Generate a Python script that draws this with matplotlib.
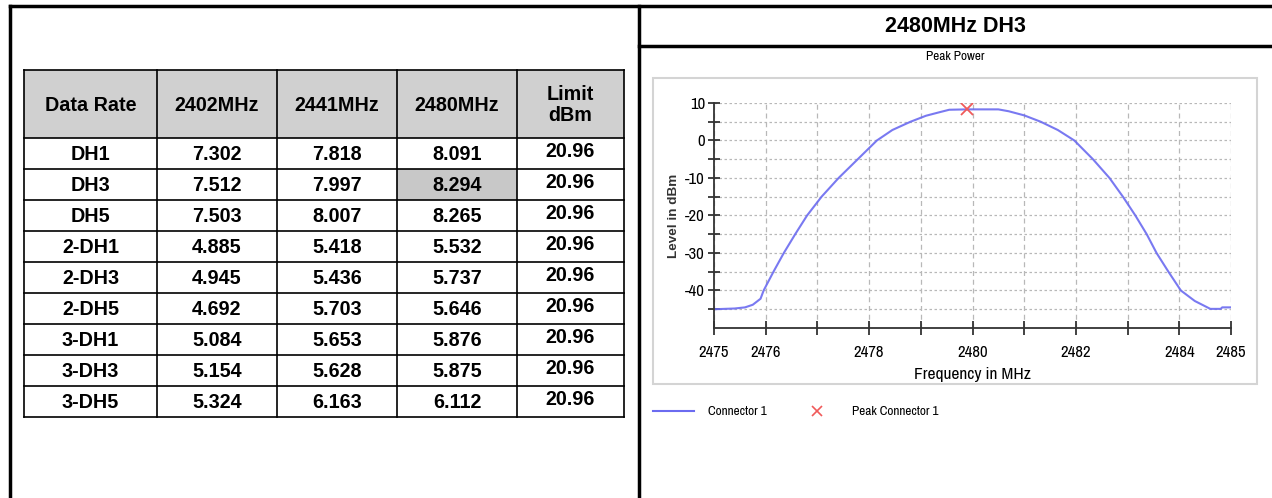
import matplotlib
matplotlib.use("Agg")
import matplotlib.pyplot as plt
from matplotlib import font_manager
from matplotlib.patches import Rectangle
from matplotlib.ticker import FixedLocator

plt.rcParams['axes.unicode_minus'] = False
plt.rcParams['font.family'] = ['Liberation Sans', 'DejaVu Sans']

# a narrow, regular-weight face for the chart texts, if one is installed
narrow = [f for f in font_manager.fontManager.ttflist
          if ('Narrow' in f.name or 'Condensed' in f.name or f.stretch in ('condensed', 'semi-condensed'))
          and f.weight in (400, 'normal', 'regular', 'book') and f.style == 'normal']
narrow.sort(key=lambda f: (0 if 'Narrow' in f.name else 1, f.name))
NARROW = narrow[0].fname if narrow else None

# table data
columns = ["Data Rate", "2402MHz", "2441MHz", "2480MHz", "Limit\ndBm"]
rates = ["DH1", "DH3", "DH5", "2-DH1", "2-DH3", "2-DH5", "3-DH1", "3-DH3", "3-DH5"]
p2402 = ["7.302", "7.512", "7.503", "4.885", "4.945", "4.692", "5.084", "5.154", "5.324"]
p2441 = ["7.818", "7.997", "8.007", "5.418", "5.436", "5.703", "5.653", "5.628", "6.163"]
p2480 = ["8.091", "8.294", "8.265", "5.532", "5.737", "5.646", "5.876", "5.875", "6.112"]
limit = ["20.96"] * 9

# peak power trace, 2480MHz DH3
freq = [2475.0, 2475.4, 2475.6, 2475.75, 2475.9, 2475.96, 2476.15, 2476.35, 2476.57,
        2476.8, 2477.08, 2477.41, 2477.78, 2478.15, 2478.45, 2478.8, 2479.1,
        2479.35, 2479.55, 2479.9, 2480.5, 2480.7, 2481.0, 2481.32, 2481.65,
        2481.97, 2482.33, 2482.65, 2482.91, 2483.15, 2483.37, 2483.56, 2483.79,
        2484.03, 2484.3, 2484.6, 2484.8, 2484.83, 2485.0]
level = [-45.0, -44.8, -44.5, -43.8, -42.2, -40.0, -35.0, -30.0, -25.0,
         -20.0, -15.0, -10.0, -5.0, 0.0, 2.8, 5.0, 6.6,
         7.5, 8.2, 8.3, 8.3, 7.8, 6.7, 5.0, 2.8,
         0.0, -5.0, -10.0, -15.0, -20.0, -25.0, -30.0, -35.0,
         -40.0, -42.8, -44.9, -44.9, -44.5, -44.5]
peak_f = [2479.9]
peak_l = [8.294]


def ntext(t):
    if NARROW:
        t.set_fontproperties(font_manager.FontProperties(fname=NARROW, size=t.get_fontsize()))


W, H = 1272, 498
fig = plt.figure(figsize=(W / 100, H / 100), dpi=100)
bg = fig.add_axes([0, 0, 1, 1])
bg.set_xlim(0, W)
bg.set_ylim(H, 0)
bg.axis('off')

# outer frame
bg.plot([10, W], [6, 6], color='black', lw=2.5)
bg.plot([10, 10], [6, H], color='black', lw=2.5)
bg.plot([639, 639], [6, H], color='black', lw=2.5)
bg.plot([639, W], [46, 46], color='black', lw=2.5)

# table
col_x = [24, 157, 277, 397, 517, 624]
head_top, head_bot, row_h = 70, 138, 31
bg.add_patch(Rectangle((24, head_top), 600, head_bot - head_top, facecolor='#d0d0d0', edgecolor='none'))
hl_row = p2480.index("8.294")
bg.add_patch(Rectangle((col_x[3], head_bot + hl_row * row_h), col_x[4] - col_x[3], row_h,
                       facecolor='#c8c8c8', edgecolor='none'))
bottom = head_bot + row_h * len(rates)
for x in col_x:
    bg.plot([x, x], [head_top, bottom], color='black', lw=1.2)
for i in range(len(rates) + 1):
    y = head_bot + i * row_h
    bg.plot([24, 624], [y, y], color='black', lw=1.2)
bg.plot([24, 624], [head_top, head_top], color='black', lw=1.2)

for j, c in enumerate(columns):
    cx = (col_x[j] + col_x[j + 1]) / 2
    bg.text(cx, (head_top + head_bot) / 2 + 1, c, ha='center', va='center',
            fontsize=14.2, fontweight='bold', linespacing=1.15)
cols = [rates, p2402, p2441, p2480, limit]
for j, vals in enumerate(cols):
    cx = (col_x[j] + col_x[j + 1]) / 2
    dy = -2 if j == 4 else 1
    for i, v in enumerate(vals):
        cy = head_bot + i * row_h + row_h / 2 + dy
        bg.text(cx, cy, v, ha='center', va='center', fontsize=14.2, fontweight='bold')

# right panel titles
bg.text(955, 26, "2480MHz DH3", ha='center', va='center', fontsize=15.5, fontweight='bold')
ntext(bg.text(955, 56, "Peak Power", ha='center', va='center', fontsize=9.5))

# chart panel box
bg.add_patch(Rectangle((653, 78), 604, 306, facecolor='none', edgecolor='#d4d4d4', lw=1.5))

# legend
bg.plot([653, 694], [411, 411], color='#6b6bf0', lw=1.5)
ntext(bg.text(708, 411, "Connector 1", ha='left', va='center', fontsize=9.5))
bg.plot([817], [411], marker='x', color='#f05a5a', ms=7, mew=1.2, ls='none')
ntext(bg.text(852, 411, "Peak Connector 1", ha='left', va='center', fontsize=9.5))

# chart
ax = fig.add_axes([714 / W, (H - 328) / H, 517 / W, 225 / H])
ax.plot(freq, level, color='#6b6bf0', lw=1.5, alpha=0.9)
ax.plot(peak_f, peak_l, marker='x', color='#f05a5a', ms=8, mew=1.3, ls='none')
ax.set_xlim(2475, 2485)
ax.set_ylim(-50, 10)
ax.yaxis.set_major_locator(FixedLocator([-40, -30, -20, -10, 0, 10]))
ax.yaxis.set_minor_locator(FixedLocator([-45, -35, -25, -15, -5, 5]))
ax.xaxis.set_major_locator(FixedLocator([2475, 2476, 2478, 2480, 2482, 2484, 2485]))
ax.xaxis.set_minor_locator(FixedLocator([2477, 2479, 2481, 2483]))
for s in ['top', 'right']:
    ax.spines[s].set_visible(False)
for s in ['left', 'bottom']:
    ax.spines[s].set_color('#333333')
    ax.spines[s].set_linewidth(1.3)
ax.tick_params(which='both', direction='inout', length=9, width=1.3, color='#333333',
               labelsize=12, pad=2)
ax.tick_params(axis='x', which='both', length=10, pad=7)
for lab in ax.get_xticklabels() + ax.get_yticklabels():
    ntext(lab)
ax.grid(axis='y', which='both', color='#b8b8b8', ls=(0, (2, 2)), lw=0.9)
ax.grid(axis='x', which='both', color='#b8b8b8', ls=(0, (4, 3)), lw=0.9)
ax.set_axisbelow(True)
ntext(ax.set_xlabel("Frequency in MHz", fontsize=12.5, labelpad=5))
ax.set_ylabel("Level in dBm", fontsize=9.7, fontweight='bold', color='#333333')
ax.yaxis.set_label_coords(-0.066, 0.5)

fig.savefig("out.png", dpi=100)
